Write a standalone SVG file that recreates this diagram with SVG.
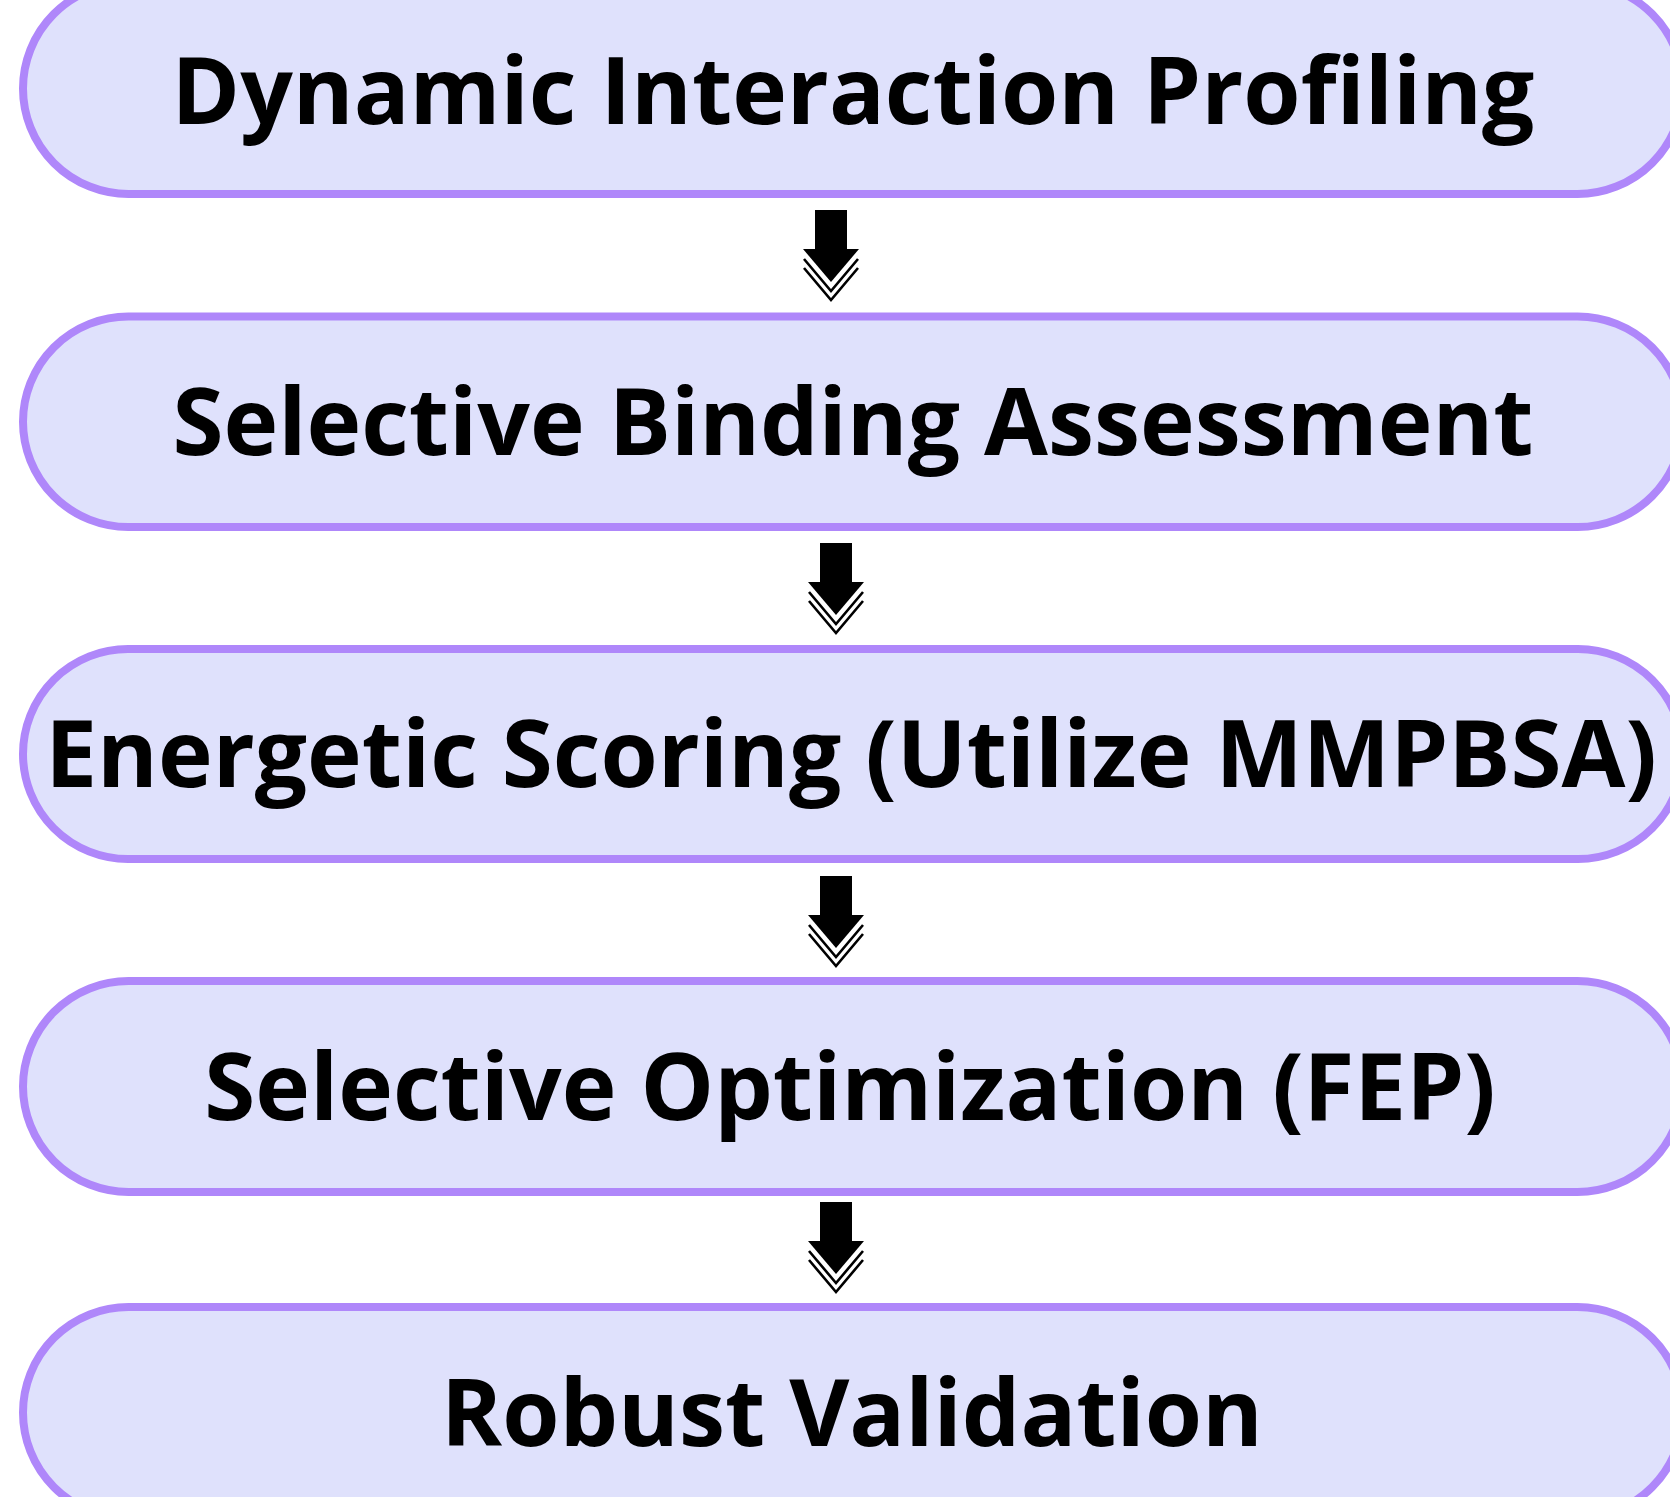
<svg xmlns="http://www.w3.org/2000/svg" width="1670" height="1497" viewBox="0 0 1670 1497">
<style>
.box{fill:#DFE1FC;stroke:#AF87FA;stroke-width:8}
.lbl{font-family:"Open Sans","Noto Sans","DejaVu Sans",sans-serif;font-weight:700;font-size:92.6px;fill:#000;text-anchor:middle}
.chev{fill:none;stroke:#000;stroke-width:2.6}
</style>
<defs>
<g id="arr">
<rect x="-16" y="0" width="32" height="40" fill="#000"/>
<polygon points="-28,39 28,39 0,72" fill="#000"/>
<polyline class="chev" points="-27,49 0,81 27,49"/>
<polyline class="chev" points="-27,58 0,90 27,58"/>
</g>
</defs>
<rect width="1670" height="1497" fill="#fff"/>
<g id="connectors">
<use href="#arr" transform="translate(831,210)"/>
<use href="#arr" transform="translate(836,543)"/>
<use href="#arr" transform="translate(836,876)"/>
<use href="#arr" transform="translate(836,1202)"/>
</g>
<g id="n1"><rect class="box" x="23" y="-17" width="1660" height="211" rx="105.5"/><text class="lbl" x="853" y="124">Dynamic Interaction Profiling</text></g>
<g id="n2"><rect class="box" x="23" y="316.5" width="1660" height="210.5" rx="105.25"/><text class="lbl" x="853" y="455">Selective Binding Assessment</text></g>
<g id="n3"><rect class="box" x="23" y="649" width="1660" height="210" rx="105"/><text class="lbl" x="851" y="787">Energetic Scoring (Utilize MMPBSA)</text></g>
<g id="n4"><rect class="box" x="23" y="981" width="1660" height="211" rx="105.5"/><text class="lbl" x="850" y="1120">Selective Optimization (FEP)</text></g>
<g id="n5"><rect class="box" x="23" y="1307" width="1660" height="211" rx="105.5"/><text class="lbl" x="852" y="1446">Robust Validation</text></g>
</svg>
